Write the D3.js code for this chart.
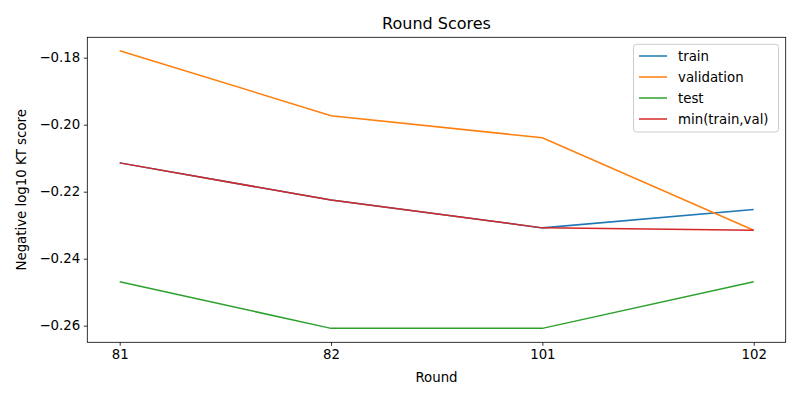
<!DOCTYPE html>
<html>
<head>
<meta charset="utf-8">
<script src="https://cdn.jsdelivr.net/npm/d3@7"></script>
<style>
  body { margin: 0; background: #fff; }
  text { font-family: "DejaVu Sans", sans-serif; }
</style>
</head>
<body>
<script>
var rounds = ['81', '82', '101', '102'];
var train = [-0.2114, -0.2225, -0.2308, -0.2253];
var validation = [-0.1779, -0.1973, -0.2039, -0.2315];
var test = [-0.2469, -0.2608, -0.2608, -0.2469];
var minTrainVal = [-0.2114, -0.2225, -0.2308, -0.2315];
var yTicks = [-0.18, -0.20, -0.22, -0.24, -0.26];

var series = [
  { name: 'train', values: train, color: '#1f77b4' },
  { name: 'validation', values: validation, color: '#ff7f0e' },
  { name: 'test', values: test, color: '#2ca02c' },
  { name: 'min(train,val)', values: minTrainVal, color: '#d62728' }
];

// plot area (window.top is reserved, so prefixed names)
var plotLeft = 87.3, plotRight = 785.7, plotTop = 37.3, plotBottom = 342.3;

var svg = d3.select('body').append('svg')
  .attr('width', 800)
  .attr('height', 400);

var x = d3.scalePoint()
  .domain(rounds)
  .range([119.7, 753.7]);

var y = d3.scaleLinear()
  .domain([-0.26496, -0.17391])
  .range([plotBottom, plotTop]);

// axes
svg.append('g')
  .attr('transform', 'translate(0,' + plotBottom + ')')
  .call(d3.axisBottom(x).tickSize(3.5).tickPadding(3.5))
  .call(function(g) { g.select('.domain').remove(); })
  .selectAll('text')
  .attr('font-size', '13.33px')
  .attr('fill', '#000');

svg.append('g')
  .attr('transform', 'translate(' + plotLeft + ',0)')
  .call(d3.axisLeft(y).tickValues(yTicks).tickFormat(function(d) {
    return d3.format('.2f')(d).replace('-', '\u2212');
  }).tickSize(3.5).tickPadding(3.5))
  .call(function(g) { g.select('.domain').remove(); })
  .selectAll('text')
  .attr('font-size', '13.33px')
  .attr('fill', '#000');

svg.selectAll('.tick line').attr('stroke', '#000').attr('stroke-width', 0.8);

// lines
var line = d3.line()
  .x(function(d, i) { return x(rounds[i]); })
  .y(function(d) { return y(d); });

svg.selectAll('path.series').data(series)
  .enter()
  .append('path')
  .attr('class', 'series')
  .attr('d', function(d) { return line(d.values); })
  .attr('fill', 'none')
  .attr('stroke', function(d) { return d.color; })
  .attr('stroke-width', 1.5);

// frame
svg.append('rect')
  .attr('x', plotLeft)
  .attr('y', plotTop)
  .attr('width', plotRight - plotLeft)
  .attr('height', plotBottom - plotTop)
  .attr('fill', 'none')
  .attr('stroke', '#000')
  .attr('stroke-width', 0.8);

// labels
svg.append('text')
  .attr('x', (plotLeft + plotRight) / 2)
  .attr('y', 29)
  .attr('text-anchor', 'middle')
  .attr('font-size', '16px')
  .text('Round Scores');

svg.append('text')
  .attr('x', (plotLeft + plotRight) / 2)
  .attr('y', 382)
  .attr('text-anchor', 'middle')
  .attr('font-size', '13.33px')
  .text('Round');

svg.append('text')
  .attr('transform', 'translate(26,' + ((plotTop + plotBottom) / 2) + ') rotate(-90)')
  .attr('text-anchor', 'middle')
  .attr('font-size', '13.33px')
  .text('Negative log10 KT score');

// legend
var legend = svg.append('g');
legend.append('rect')
  .attr('x', 633.5)
  .attr('y', 44.3)
  .attr('width', 145)
  .attr('height', 87.7)
  .attr('rx', 3)
  .attr('fill', '#fff')
  .attr('fill-opacity', 0.8)
  .attr('stroke', '#ccc');

var items = legend.selectAll('g.item').data(series)
  .enter()
  .append('g')
  .attr('class', 'item')
  .attr('transform', function(d, i) { return 'translate(0,' + (56 + i * 21) + ')'; });

items.append('line')
  .attr('x1', 639).attr('x2', 667)
  .attr('y1', 0).attr('y2', 0)
  .attr('stroke', function(d) { return d.color; })
  .attr('stroke-width', 1.5);

items.append('text')
  .attr('x', 678)
  .attr('y', 4.8)
  .attr('font-size', '13.33px')
  .text(function(d) { return d.name; });
</script>
</body>
</html>
